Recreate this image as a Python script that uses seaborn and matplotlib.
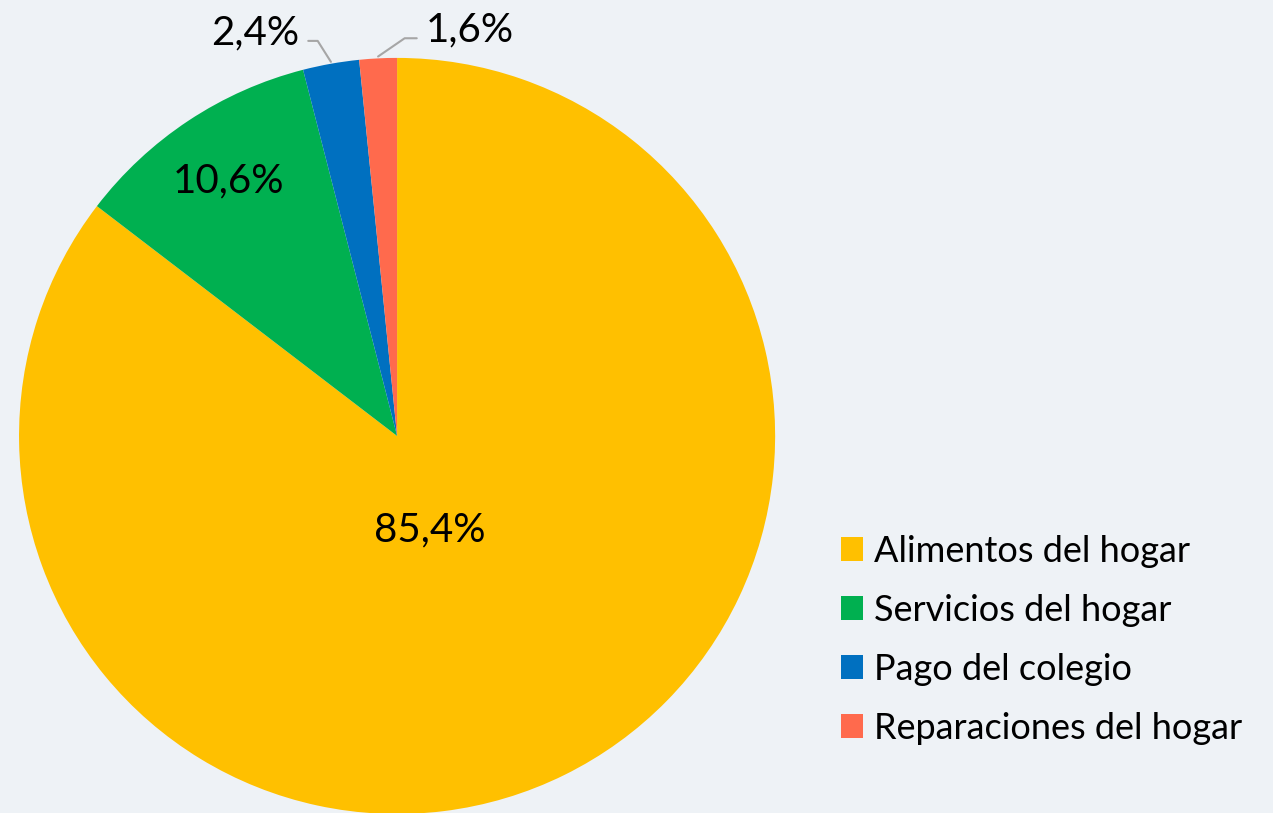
import numpy as np
import matplotlib
matplotlib.use("Agg")
import matplotlib.pyplot as plt
import seaborn as sns

categories = ["Alimentos del hogar", "Servicios del hogar", "Pago del colegio", "Reparaciones del hogar"]
values = [85.4, 10.6, 2.4, 1.6]
labels = ["85,4%", "10,6%", "2,4%", "1,6%"]
colors = ["#FFC000", "#00B050", "#0070C0", "#FF6A4D"]

sns.set_theme(style="white")
plt.rcParams["font.family"] = ["Lato", "DejaVu Sans"]

bg = "#eef2f6"
fig = plt.figure(figsize=(12.73, 8.13), dpi=100, facecolor=bg)
ax = fig.add_axes([0.01493, -0.00123, 0.594, 0.93])
ax.set_facecolor("none")
palette = sns.color_palette(colors)

wedges, _ = ax.pie(values, colors=palette, startangle=90, counterclock=False,
                   radius=1.0, wedgeprops=dict(linewidth=0))
ax.set_xlim(-1, 1)
ax.set_ylim(-1, 1)
ax.set_aspect("equal")
ax.axis("off")

# label placement
fs = 29
for i, w in enumerate(wedges):
    mid = np.deg2rad((w.theta1 + w.theta2) / 2)
    if i == 0:
        r = 0.265
        ax.text(r * np.cos(mid) - 0.03, r * np.sin(mid) - 0.012, labels[i], ha="center", va="center",
                fontsize=fs, color="black")
    elif i == 1:
        r = 0.81
        ax.text(r * np.cos(mid), r * np.sin(mid), labels[i], ha="center", va="center",
                fontsize=fs, color="black")
    else:
        x0, y0 = np.cos(mid), np.sin(mid)
        if i == 2:
            tx, ty = -0.376, 1.066
            elbow = (-0.21, 1.045)
            end = (-0.235, 1.045)
        else:
            tx, ty = 0.193, 1.074
            elbow = (0.02, 1.052)
            end = (0.052, 1.052)
        ax.plot([x0, elbow[0], end[0]], [y0 + 0.005, elbow[1], end[1]], color="#a6a6a6",
                lw=1.5, clip_on=False)
        ax.text(tx, ty, labels[i], ha="center", va="center", fontsize=fs, color="black",
                clip_on=False)

leg = fig.legend(wedges, categories, loc="center left", bbox_to_anchor=(0.649, 0.213),
                 frameon=False, fontsize=26, handlelength=0.62, handleheight=0.62,
                 handletextpad=0.3, labelspacing=0.72, borderaxespad=0, labelcolor="black")

fig.savefig("out.png", dpi=100, facecolor=bg)
